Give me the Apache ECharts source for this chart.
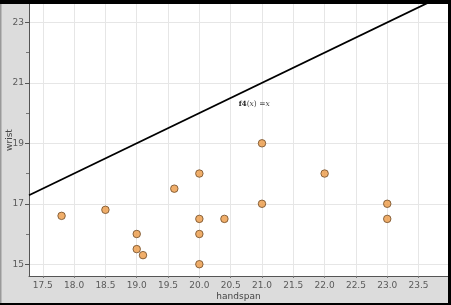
<!DOCTYPE html>
<html><head><meta charset="utf-8">
<script src="https://cdn.jsdelivr.net/npm/echarts@6/dist/echarts.min.js"></script>
<style>html,body{margin:0;padding:0;background:#dcdcdc}#c{width:451px;height:305px}</style>
</head><body><div id="c"></div>
<script>
const handspan = [17.8, 18.5, 19.0, 19.0, 19.1, 19.6, 20.0, 20.0, 20.0, 20.0, 20.4, 21.0, 21.0, 22.0, 23.0, 23.0];
const wrist    = [16.6, 16.8, 16.0, 15.5, 15.3, 17.5, 18.0, 16.5, 16.0, 15.0, 16.5, 17.0, 19.0, 18.0, 17.0, 16.5];
const xTicks = [17.5, 18.0, 18.5, 19.0, 19.5, 20.0, 20.5, 21.0, 21.5, 22.0, 22.5, 23.0, 23.5];
const yTicks = [15, 17, 19, 21, 23];
const yMinorTicks = [16, 18, 20, 22];
const xRange = [17.28, 23.97];
const yRange = [14.61, 23.61];
const fnLine = [[17.28, 17.28], [23.97, 23.97]];
const fnLabelAt = [20.63, 20.3];

const points = handspan.map((h, i) => [h, wrist[i]]);
const chart = echarts.init(document.getElementById('c'), null, {renderer: 'canvas'});
const labelColor = '#5a5a5a';
chart.setOption({
  animation: false,
  backgroundColor: '#dcdcdc',
  grid: {left: 29, top: 4, right: 3, bottom: 29, show: true, backgroundColor: '#ffffff', borderWidth: 0,
    containLabel: false, outerBoundsMode: 'none'},
  xAxis: {
    type: 'value', min: xRange[0], max: xRange[1],
    name: 'handspan', nameLocation: 'middle', nameGap: 16, nameMoveOverlap: false,
    nameTextStyle: {color: '#444', fontSize: 9, fontFamily: 'DejaVu Sans', verticalAlign: 'top'},
    axisLine: {show: true, lineStyle: {color: '#555', width: 1}},
    axisTick: {show: true, length: 2, customValues: xTicks, lineStyle: {color: '#777'}},
    axisLabel: {customValues: xTicks, color: labelColor, fontSize: 9, fontFamily: 'DejaVu Sans', margin: 5,
      formatter: v => v.toFixed(1)},
    splitLine: {show: true, lineStyle: {color: '#e6e6e6', width: 1}}
  },
  yAxis: [{
    type: 'value', min: yRange[0], max: yRange[1],
    name: 'wrist', nameLocation: 'middle', nameGap: 15, nameRotate: 90, nameMoveOverlap: false,
    nameTextStyle: {color: '#444', fontSize: 9, fontFamily: 'DejaVu Sans'},
    axisLine: {show: true, lineStyle: {color: '#555', width: 1}},
    axisTick: {show: true, length: 4, customValues: yTicks, lineStyle: {color: '#555'}},
    axisLabel: {customValues: yTicks, color: labelColor, fontSize: 9, fontFamily: 'DejaVu Sans', margin: 5},
    splitLine: {show: true, lineStyle: {color: '#e6e6e6', width: 1}}
  }, {
    type: 'value', min: yRange[0], max: yRange[1], position: 'left', offset: 0,
    axisLine: {show: false},
    axisTick: {show: true, length: 3, customValues: yMinorTicks, lineStyle: {color: '#777'}},
    axisLabel: {show: false, customValues: yMinorTicks},
    splitLine: {show: false}
  }],
  graphic: [
    {type: 'rect', shape: {x: 0, y: 0, width: 451, height: 4}, style: {fill: '#000'}, z: 100},
    {type: 'rect', shape: {x: 0, y: 303, width: 451, height: 2}, style: {fill: '#000'}, z: 100},
    {type: 'rect', shape: {x: 448, y: 0, width: 3, height: 305}, style: {fill: '#000'}, z: 100},
    {type: 'rect', shape: {x: 0, y: 4, width: 1.5, height: 299}, style: {fill: '#9a9a9a'}, z: 100}
  ],
  series: [{
    type: 'line', data: fnLine, showSymbol: false, symbol: 'none',
    lineStyle: {color: '#000', width: 1.8}, clip: true, silent: true,
    markPoint: {
      symbol: 'circle', symbolSize: 0,
      data: [{coord: fnLabelAt}],
      label: {show: true, position: 'right', distance: 0,
        formatter: '{b|f4}{n|(}{i|x}{n|) =}{i|x}',
        rich: {
          b: {fontFamily: 'DejaVu Serif', fontWeight: 'bold', fontSize: 7, color: '#222'},
          n: {fontFamily: 'DejaVu Serif', fontSize: 7.5, color: '#444'},
          i: {fontFamily: 'DejaVu Serif', fontStyle: 'italic', fontSize: 7.5, color: '#444'}
        }}
    }
  }, {
    type: 'scatter', data: points, symbolSize: 7.5,
    itemStyle: {color: '#ec9a45', borderColor: '#6e4a25', borderWidth: 1}
  }]
});
</script></body></html>
